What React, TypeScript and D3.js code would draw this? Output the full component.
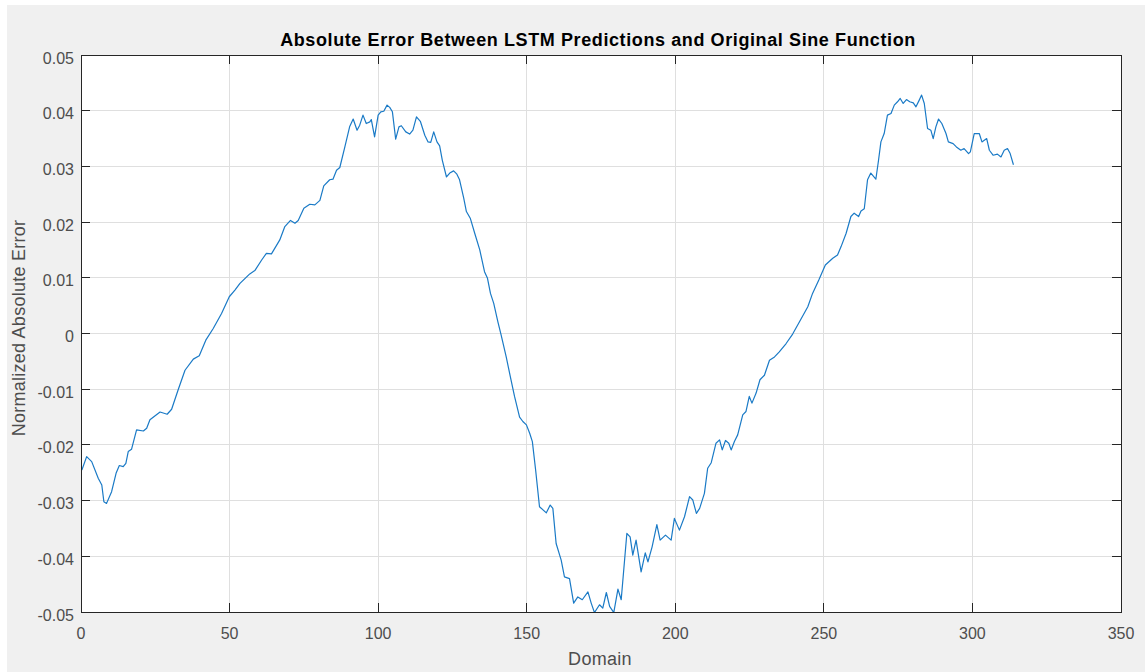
import React from "react";
import * as d3 from "d3";

// Sample positions along the domain and the corresponding normalized error
const domainX: number[] = [
  0.3, 1.9, 3.6, 5.8, 7.0, 7.7, 8.6, 10.3, 11.8, 12.9, 14.2, 15.1, 15.9, 17.0, 18.7, 21.0, 22.1, 23.2,
  26.6, 29.0, 30.5, 32.7, 35.0, 37.8, 39.8, 42.0, 44.5, 47.3, 49.9, 51.8, 53.5, 56.8, 58.5, 60.8, 62.4,
  64.1, 66.9, 68.6, 70.5, 72.0, 73.1, 75.0, 77.0, 78.7, 80.4, 81.7, 83.7, 84.8, 86.0, 87.1, 88.8, 90.4,
  91.6, 92.9, 93.8, 94.9, 96.0, 97.2, 97.7, 98.8, 100.0, 100.9, 101.9, 103.0, 103.9, 104.8, 105.9, 107.0,
  107.8, 109.3, 110.6, 111.7, 112.9, 114.2, 115.7, 116.8, 117.7, 118.7, 119.8, 120.7, 121.6, 123.0, 124.1,
  125.4, 126.5, 127.4, 128.8, 129.7, 131.0, 132.5, 134.2, 135.8, 136.8, 137.8, 138.9, 140.3, 141.4, 143.1,
  144.5, 145.9, 147.6, 148.7, 149.9, 151.0, 151.9, 153.0, 154.3, 156.6, 157.9, 158.8, 159.9, 161.6, 162.7,
  164.4, 165.8, 167.2, 168.7, 170.6, 171.7, 172.8, 174.5, 175.6, 176.8, 177.9, 179.3, 180.7, 181.8, 183.7,
  184.8, 185.7, 186.8, 188.5, 189.9, 190.8, 192.2, 193.8, 194.9, 196.7, 198.6, 199.7, 201.4, 203.1, 204.8,
  205.9, 207.1, 208.2, 209.8, 210.9, 212.1, 213.7, 214.9, 215.8, 216.9, 218.0, 218.8, 219.9, 221.0, 222.7,
  223.8, 224.9, 225.8, 227.2, 228.5, 230.0, 231.7, 233.4, 235.0, 237.3, 239.5, 241.8, 244.6, 246.2, 248.3,
  250.5, 253.0, 254.6, 255.8, 257.5, 259.1, 260.2, 261.7, 262.5, 263.6, 264.7, 265.8, 267.5, 268.4, 269.2,
  270.3, 271.4, 272.6, 273.7, 274.8, 275.7, 276.7, 277.8, 278.9, 280.1, 281.0, 282.1, 282.9, 283.8, 284.9,
  286.0, 286.8, 287.7, 288.6, 289.7, 291.1, 291.9, 293.5, 294.6, 296.1, 297.2, 298.7, 299.3, 300.6, 302.3,
  303.2, 304.8, 305.7, 307.0, 308.4, 309.6, 310.7, 311.8, 312.7, 313.8,
];

const errorY: number[] = [
  -0.0245, -0.0221, -0.023, -0.026, -0.0272, -0.0302, -0.0305, -0.0284, -0.0251, -0.0237, -0.0239, -0.0233,
  -0.0212, -0.0208, -0.0173, -0.0175, -0.017, -0.0155, -0.0141, -0.0145, -0.0136, -0.0101, -0.0066, -0.0046,
  -0.004, -0.0012, 0.0009, 0.0036, 0.0066, 0.0078, 0.009, 0.0107, 0.0113, 0.0132, 0.0144, 0.0143, 0.0168,
  0.0192, 0.0203, 0.0198, 0.0203, 0.0225, 0.0232, 0.0231, 0.0239, 0.0265, 0.0276, 0.0277, 0.0293, 0.0298,
  0.0335, 0.0371, 0.0385, 0.0365, 0.0374, 0.0392, 0.0377, 0.038, 0.0384, 0.0353, 0.0392, 0.0398, 0.0399,
  0.041, 0.0406, 0.0398, 0.0349, 0.0371, 0.0373, 0.0362, 0.0358, 0.0365, 0.0389, 0.0381, 0.0356, 0.0344,
  0.0343, 0.0362, 0.0344, 0.0337, 0.0311, 0.0281, 0.0288, 0.0292, 0.0286, 0.0276, 0.0243, 0.0219, 0.0207,
  0.018, 0.015, 0.0111, 0.0099, 0.0072, 0.0054, 0.0021, -0.0003, -0.0042, -0.0078, -0.0113, -0.015, -0.0158,
  -0.0164, -0.0179, -0.0194, -0.0245, -0.0311, -0.0322, -0.0308, -0.0314, -0.0377, -0.0407, -0.0437, -0.044,
  -0.0484, -0.0473, -0.0478, -0.0464, -0.0484, -0.0501, -0.0487, -0.0493, -0.0465, -0.049, -0.0501, -0.0459,
  -0.0478, -0.0359, -0.0365, -0.0398, -0.0371, -0.0428, -0.0394, -0.041, -0.0383, -0.0343, -0.0371, -0.0362,
  -0.0371, -0.0332, -0.0353, -0.0329, -0.0293, -0.0299, -0.0323, -0.0314, -0.0287, -0.0242, -0.0232, -0.0197,
  -0.0191, -0.0209, -0.0192, -0.0197, -0.0209, -0.0194, -0.0182, -0.0146, -0.014, -0.0113, -0.0125, -0.0107,
  -0.0083, -0.0075, -0.0048, -0.0042, -0.0033, -0.0018, -0.0001, 0.0021, 0.0048, 0.0072, 0.0096, 0.0123,
  0.0135, 0.0141, 0.0156, 0.018, 0.021, 0.0216, 0.021, 0.022, 0.0224, 0.0276, 0.0288, 0.0277, 0.0311,
  0.0344, 0.0359, 0.0392, 0.0395, 0.041, 0.0416, 0.0422, 0.0413, 0.042, 0.0416, 0.0414, 0.0407, 0.0419,
  0.0428, 0.0413, 0.0368, 0.0365, 0.035, 0.0371, 0.0385, 0.0377, 0.0359, 0.0344, 0.0341, 0.0335, 0.0329,
  0.0332, 0.0323, 0.0326, 0.0359, 0.0359, 0.0344, 0.035, 0.0329, 0.032, 0.0322, 0.0317, 0.0329, 0.0332,
  0.0323, 0.0303,
];

const xTicks: number[] = [0, 50, 100, 150, 200, 250, 300, 350];
const yTicks: number[] = [-0.05, -0.04, -0.03, -0.02, -0.01, 0, 0.01, 0.02, 0.03, 0.04, 0.05];
const yTickLabels: string[] = ["-0.05", "-0.04", "-0.03", "-0.02", "-0.01", "0", "0.01", "0.02", "0.03", "0.04", "0.05"];

const titleText = "Absolute Error Between LSTM Predictions and Original Sine Function";
const xLabel = "Domain";
const yLabel = "Normalized Absolute Error";

const W = 1145;
const H = 672;
const plot = { left: 81, top: 55, right: 1121, bottom: 612 };
const font = "'Liberation Sans', Arial, Helvetica, sans-serif";
const axisColor = "#262626";
const tickText = "#4d4d4d";
const gridColor = "#dfdfdf";
const tickLen = 9;

export default function App() {
  const x = d3.scaleLinear().domain([0, 350]).range([plot.left, plot.right]);
  const y = d3.scaleLinear().domain([-0.05, 0.05]).range([plot.bottom, plot.top]);

  const points: [number, number][] = domainX.map((d, i) => [d, errorY[i]]);
  const line = d3
    .line<[number, number]>()
    .x((d) => x(d[0]))
    .y((d) => y(d[1]))
    .curve(d3.curveLinear);

  const pw = plot.right - plot.left;
  const ph = plot.bottom - plot.top;

  return (
    <svg
      width={W}
      height={H}
      style={{ position: "absolute", left: 0, top: 0, display: "block" }}
      fontFamily={font}
    >
      <rect x={0} y={0} width={W} height={H} fill="#ffffff" />
      <rect x={7} y={5} width={W - 7} height={H - 5} fill="#f0f0f0" />
      <defs>
        <clipPath id="plot-clip">
          <rect x={plot.left} y={plot.top} width={pw} height={ph} />
        </clipPath>
      </defs>
      <rect x={plot.left} y={plot.top} width={pw} height={ph} fill="#ffffff" />

      {/* grid */}
      <g shapeRendering="crispEdges">
        {xTicks.map((t) => (
          <line key={"gx" + t} x1={x(t)} x2={x(t)} y1={plot.top} y2={plot.bottom} stroke={gridColor} strokeWidth={1} />
        ))}
        {yTicks.map((t) => (
          <line key={"gy" + t} x1={plot.left} x2={plot.right} y1={y(t)} y2={y(t)} stroke={gridColor} strokeWidth={1} />
        ))}
      </g>

      {/* data line */}
      <path
        d={line(points) ?? ""}
        fill="none"
        stroke="#1a7ac6"
        strokeWidth={1.2}
        strokeLinejoin="round"
        clipPath="url(#plot-clip)"
      />

      {/* axes box and inward ticks */}
      <g stroke={axisColor} strokeWidth={1} shapeRendering="crispEdges">
        <rect x={plot.left} y={plot.top} width={pw} height={ph} fill="none" />
        {xTicks.map((t) => (
          <g key={"tx" + t}>
            <line x1={x(t)} x2={x(t)} y1={plot.bottom} y2={plot.bottom - tickLen} />
            <line x1={x(t)} x2={x(t)} y1={plot.top} y2={plot.top + tickLen} />
          </g>
        ))}
        {yTicks.map((t) => (
          <g key={"ty" + t}>
            <line x1={plot.left} x2={plot.left + tickLen} y1={y(t)} y2={y(t)} />
            <line x1={plot.right} x2={plot.right - tickLen} y1={y(t)} y2={y(t)} />
          </g>
        ))}
      </g>

      {/* tick labels */}
      <g fill={tickText} fontSize={16}>
        {xTicks.map((t) => (
          <text key={"lx" + t} x={x(t)} y={639} textAnchor="middle">
            {String(t)}
          </text>
        ))}
        {yTicks.map((t, i) => (
          <text key={"ly" + t} x={plot.left - 7} y={y(t) + 8.5} textAnchor="end">
            {yTickLabels[i]}
          </text>
        ))}
      </g>

      {/* titles */}
      <text
        x={598}
        y={46}
        textAnchor="middle"
        fontSize={18}
        fontWeight="bold"
        letterSpacing={0.6}
        fill="#000000"
      >
        {titleText}
      </text>
      <text x={600} y={665} textAnchor="middle" fontSize={18} letterSpacing={0.3} fill={tickText}>
        {xLabel}
      </text>
      <text
        transform={`translate(25, 328) rotate(-90)`}
        textAnchor="middle"
        fontSize={18}
        letterSpacing={0.25}
        fill={tickText}
      >
        {yLabel}
      </text>
    </svg>
  );
}
